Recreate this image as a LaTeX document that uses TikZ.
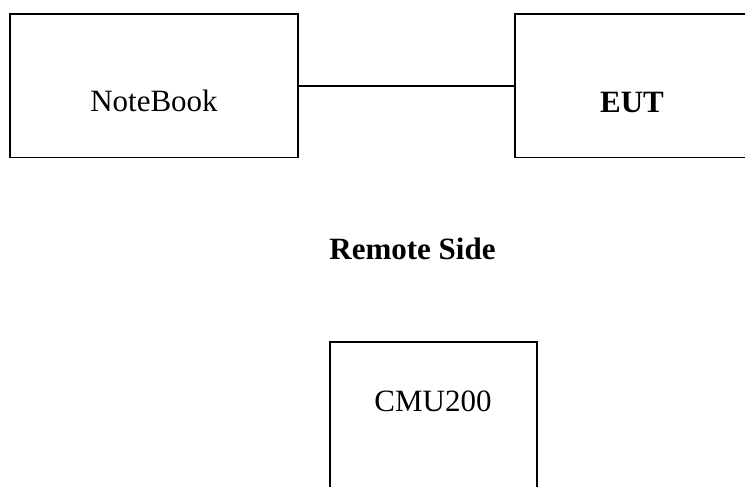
\documentclass[tikz,border=0pt]{standalone}
\usepackage{fontspec}
\setmainfont{Liberation Serif}
\tikzset{
  unit/.style={rectangle, draw, line width=1.6bp, inner sep=0pt},
  caption/.style={anchor=base, inner sep=0pt, font=\fontsize{31bp}{36bp}\selectfont},
}
\begin{document}
\begin{tikzpicture}[x=1bp,y=-1bp]
		\clip (0,0) rectangle (745,487);
		% boxes
		\node[unit, minimum width=288bp, minimum height=143.5bp] (nb) at (154,85.75) {};
		\node[unit, minimum width=250bp, minimum height=143.5bp] (eut) at (640,85.75) {};
		\node[unit, minimum width=207bp, minimum height=170bp] (cmu) at (433.5,427) {};
		% texts
		\node[caption] (nbtext) at (154,112) {NoteBook};
		\node[caption] (euttext) at (632,113) {\bfseries EUT};
		\node[caption] (remote) at (412.5,260) {\bfseries Remote Side};
		\node[caption] (cmutext) at (433,411.5) {CMU200};
		% cable
		\draw[line width=1.6bp] (nb.east) -- (eut.west);
\end{tikzpicture}
\end{document}
